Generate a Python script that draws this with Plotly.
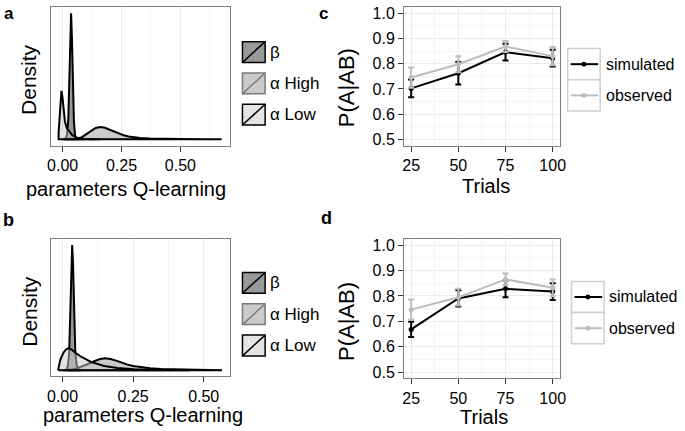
import plotly.graph_objects as go

W, H = 685, 431
FONT = "Liberation Sans, Arial, Helvetica, sans-serif"

# ---------------- data ----------------
# Panel a: densities (relative units, beta peak = 1)
a_beta_x = [0.010, 0.018, 0.024, 0.028, 0.032, 0.036, 0.040, 0.044, 0.048, 0.053, 0.060, 0.070]
a_beta_y = [0.00, 0.03, 0.15, 0.40, 0.80, 1.00, 0.78, 0.40, 0.14, 0.03, 0.005, 0.0]
a_high_x = [0.00, 0.04, 0.06, 0.08, 0.10, 0.12, 0.14, 0.16, 0.18, 0.20, 0.22, 0.24, 0.26, 0.28,
            0.30, 0.33, 0.37, 0.42, 0.50, 0.60, 0.675]
a_high_y = [0.0, 0.003, 0.006, 0.015, 0.04, 0.07, 0.09, 0.097, 0.092, 0.076, 0.06, 0.045, 0.032,
            0.022, 0.016, 0.011, 0.007, 0.004, 0.002, 0.001, 0.0]
a_low_x = [-0.017, -0.013, -0.009, -0.005, -0.001, 0.004, 0.010, 0.018, 0.028, 0.040, 0.055,
           0.070, 0.090, 0.120, 0.160]
a_low_y = [0.05, 0.20, 0.33, 0.384, 0.34, 0.22, 0.14, 0.09, 0.06, 0.035, 0.018, 0.008, 0.003,
           0.001, 0.0]

# Panel b: densities
b_beta_x = [0.012, 0.018, 0.023, 0.027, 0.031, 0.034, 0.037, 0.041, 0.045, 0.050, 0.056, 0.065]
b_beta_y = [0.0, 0.03, 0.12, 0.42, 0.82, 1.00, 0.85, 0.45, 0.15, 0.04, 0.01, 0.0]
b_high_x = [0.00, 0.03, 0.05, 0.07, 0.09, 0.11, 0.13, 0.15, 0.17, 0.19, 0.21, 0.23, 0.25, 0.28,
            0.31, 0.35, 0.40, 0.46, 0.52, 0.565]
b_high_y = [0.0, 0.005, 0.015, 0.03, 0.05, 0.07, 0.087, 0.095, 0.09, 0.077, 0.06, 0.045, 0.034,
            0.022, 0.015, 0.01, 0.006, 0.003, 0.001, 0.0]
b_low_x = [-0.016, -0.008, 0.0035, 0.012, 0.021, 0.032, 0.044, 0.067, 0.102, 0.148, 0.194, 0.252,
           0.32, 0.45]
b_low_y = [0.0, 0.085, 0.142, 0.166, 0.176, 0.165, 0.142, 0.106, 0.065, 0.034, 0.018, 0.008,
           0.003, 0.0]

param_names = ["β", "α High", "α Low"]
param_fills = ["rgba(51,51,51,0.5)", "rgba(152,152,152,0.5)", "rgba(204,204,204,0.5)"]
param_key_lines = ["#000000", "#7a7a7a", "#000000"]
density_ticks = [0.0, 0.25, 0.5]
density_ticktext = ["0.00", "0.25", "0.50"]

# Panels c, d: P(A|AB) by trials
trials = [25, 50, 75, 100]
sim_c = [0.702, 0.762, 0.846, 0.822]
sim_c_err = [0.035, 0.045, 0.033, 0.033]
obs_c = [0.745, 0.798, 0.868, 0.830]
obs_c_err = [0.04, 0.032, 0.022, 0.036]
sim_d = [0.668, 0.790, 0.828, 0.817]
sim_d_err = [0.03, 0.032, 0.033, 0.033]
obs_d = [0.746, 0.795, 0.865, 0.832]
obs_d_err = [0.04, 0.033, 0.023, 0.033]
series_names = ["simulated", "observed"]
series_colors = ["#000000", "#bdbdbd"]
p_ticks = [0.5, 0.6, 0.7, 0.8, 0.9, 1.0]

# ---------------- helpers ----------------
def px(x):
    return x / W

def py(y):
    return 1 - y / H

def closed(xs, ys):
    return xs + [xs[-1], xs[0], xs[0]], ys + [0, 0, ys[0]]

fig = go.Figure()

# density traces
dens_sets = {
    ("x", "y"): [(a_beta_x, a_beta_y), (a_high_x, a_high_y), (a_low_x, a_low_y)],
    ("x2", "y2"): [(b_beta_x, b_beta_y), (b_high_x, b_high_y), (b_low_x, b_low_y)],
}
for (xa, ya), sets in dens_sets.items():
    for i, (xs, ys) in enumerate(sets):
        cx, cy = closed(xs, ys)
        fig.add_trace(go.Scatter(
            x=cx, y=cy, xaxis=xa, yaxis=ya, mode="lines", fill="toself",
            fillcolor=param_fills[i], line=dict(color="#000000", width=2),
            name=param_names[i], showlegend=False, hoverinfo="skip"))

# P(A|AB) traces
line_sets = {
    ("x3", "y3"): [(sim_c, sim_c_err), (obs_c, obs_c_err)],
    ("x4", "y4"): [(sim_d, sim_d_err), (obs_d, obs_d_err)],
}
for (xa, ya), sets in line_sets.items():
    for i, (vals, errs) in enumerate(sets):
        fig.add_trace(go.Scatter(
            x=trials, y=vals, xaxis=xa, yaxis=ya, mode="lines+markers",
            line=dict(color=series_colors[i], width=2),
            marker=dict(color=series_colors[i], size=5),
            error_y=dict(type="data", array=errs, color=series_colors[i],
                         thickness=2, width=3),
            name=series_names[i], showlegend=False))

# ---------------- axes ----------------
grid_major = "#ebebeb"
grid_minor = "#f5f5f5"
border = "#7f7f7f"
tickcol = "#333333"

dom_a = dict(x=[px(48), px(229)], y=[py(145), py(5)])
dom_b = dict(x=[px(48), px(229)], y=[py(378), py(239)])
dom_c = dict(x=[px(406), px(564)], y=[py(145), py(5)])
dom_d = dict(x=[px(406), px(564)], y=[py(380), py(239)])

def dens_x(domain, rng, anchor):
    return dict(domain=domain, range=rng, anchor=anchor, tickvals=density_ticks,
                ticktext=density_ticktext, ticks="outside", ticklen=5, tickcolor=tickcol,
                showline=True, mirror=True, linecolor=border, linewidth=1,
                showgrid=True, gridcolor=grid_major, gridwidth=1, zeroline=False,
                minor=dict(dtick=0.125, tick0=0, showgrid=True, gridcolor=grid_minor),
                tickfont=dict(size=16, color="#000000", family=FONT))

def dens_y(domain, anchor):
    return dict(domain=domain, range=[-0.05, 1.05], anchor=anchor, showticklabels=False,
                ticks="", showgrid=False, zeroline=False, showline=True, mirror=True,
                linecolor=border, linewidth=1)

def p_x(domain, anchor):
    return dict(domain=domain, range=[21.25, 103.75], anchor=anchor, tickvals=trials,
                ticks="outside", ticklen=5, tickcolor=tickcol, showline=True, mirror=True,
                linecolor=border, linewidth=1, showgrid=True, gridcolor=grid_major,
                zeroline=False,
                minor=dict(dtick=12.5, tick0=12.5, showgrid=True, gridcolor=grid_minor),
                tickfont=dict(size=16, color="#000000", family=FONT))

def p_y(domain, anchor):
    return dict(domain=domain, range=[0.475, 1.025], anchor=anchor, tickvals=p_ticks,
                ticktext=[f"{v:.1f}" for v in p_ticks], ticks="outside", ticklen=5,
                tickcolor=tickcol, showline=True, mirror=True, linecolor=border,
                linewidth=1, showgrid=True, gridcolor=grid_major, zeroline=False,
                minor=dict(dtick=0.05, tick0=0.45, showgrid=True, gridcolor=grid_minor),
                tickfont=dict(size=16, color="#000000", family=FONT))

fig.update_layout(
    xaxis=dens_x(dom_a["x"], [-0.048, 0.709], "y"),
    yaxis=dens_y(dom_a["y"], "x"),
    xaxis2=dens_x(dom_b["x"], [-0.040, 0.592], "y2"),
    yaxis2=dens_y(dom_b["y"], "x2"),
    xaxis3=p_x(dom_c["x"], "y3"),
    yaxis3=p_y(dom_c["y"], "x3"),
    xaxis4=p_x(dom_d["x"], "y4"),
    yaxis4=p_y(dom_d["y"], "x4"),
)

# ---------------- text ----------------
ann = []

def text(x, y, s, size, xanchor="center", yanchor="middle", angle=0, bold=False, color="#000000"):
    ann.append(dict(x=px(x), y=py(y), xref="paper", yref="paper", text=(f"<b>{s}</b>" if bold else s),
                    showarrow=False, xanchor=xanchor, yanchor=yanchor, textangle=angle,
                    font=dict(size=size, family=FONT, color=color)))

# panel letters
text(5, 0, "a", 17, yanchor="top", bold=True)
text(5, 220, "b", 18, bold=True)
text(324, 0, "c", 17, yanchor="top", bold=True)
text(327, 218, "d", 18, bold=True)

# axis titles
text(124, 189, "parameters Q-learning", 20)
text(141, 417, "parameters Q-learning", 20)
text(25, 78, "Density", 21, angle=-90)
text(25, 312, "Density", 21, angle=-90)
text(489, 186, "Trials", 20)
text(487, 419, "Trials", 20)
text(347, 86, "P(A|AB)", 22, angle=-90)
text(347, 322, "P(A|AB)", 22, angle=-90)

shapes = []

# density legends (a, b)
for (kx, ky0, step) in [(242, 40, 31.6), (242, 273, 31.6)]:
    for i, name in enumerate(param_names):
        y0 = ky0 + i * step
        y1 = y0 + 21
        shapes.append(dict(type="rect", xref="paper", yref="paper", x0=px(kx), x1=px(kx + 23),
                           y0=py(y1), y1=py(y0), fillcolor=param_fills[i],
                           line=dict(color=param_key_lines[i], width=1.5)))
        shapes.append(dict(type="line", xref="paper", yref="paper", x0=px(kx), x1=px(kx + 23),
                           y0=py(y1), y1=py(y0), line=dict(color=param_key_lines[i], width=1.5)))
        text(kx + 26, (y0 + y1) / 2, name, 17, xanchor="left")

# line legends (c, d)
for (kx, ky0, labx) in [(572, 47, 609), (576, 282, 612)]:
    kw, kh = 33, 31.5
    for i, name in enumerate(series_names):
        y0 = ky0 + i * kh
        y1 = y0 + kh
        shapes.append(dict(type="rect", xref="paper", yref="paper", x0=px(kx), x1=px(kx + kw),
                           y0=py(y1), y1=py(y0), fillcolor="white",
                           line=dict(color="#d0d0d0", width=1.5)))
        yc = (y0 + y1) / 2
        shapes.append(dict(type="line", xref="paper", yref="paper", x0=px(kx + 3), x1=px(kx + kw - 2),
                           y0=py(yc), y1=py(yc), line=dict(color=series_colors[i], width=2)))
        cx = kx + kw / 2
        shapes.append(dict(type="circle", xref="paper", yref="paper", x0=px(cx - 2.5), x1=px(cx + 2.5),
                           y0=py(yc + 2.5), y1=py(yc - 2.5), fillcolor=series_colors[i],
                           line=dict(color=series_colors[i], width=0)))
        text(labx, yc, name, 16, xanchor="left")

fig.update_layout(
    width=W, height=H, margin=dict(l=0, r=0, t=0, b=0),
    paper_bgcolor="white", plot_bgcolor="white",
    annotations=ann, shapes=shapes, showlegend=False,
    font=dict(family=FONT, color="#000000"),
)

fig.write_html("out.html", config={"displayModeBar": False},
               post_script="document.body.style.margin='0';document.body.style.overflow='hidden';")
